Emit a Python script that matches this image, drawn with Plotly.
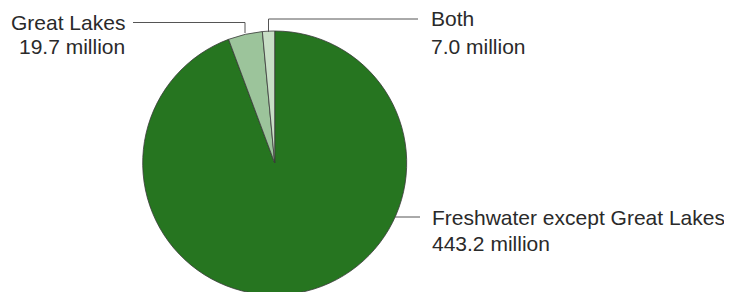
import plotly.graph_objects as go

W, H = 732, 292
OFF = 8  # page body margin in the browser

categories = ["Freshwater except Great Lakes", "Great Lakes", "Both"]
values = [443.2, 19.7, 7.0]
value_labels = ["443.2 million", "19.7 million", "7.0 million"]
colors = ["#267520", "#9cc49b", "#c8dfc6"]

def px(x):
    return (x - OFF) / W

def py(y):
    return 1 - (y - OFF) / H

cx, cy, r = 274.7, 163.0, 132.0

fig = go.Figure(go.Pie(
    labels=categories,
    values=values,
    sort=False,
    direction="clockwise",
    rotation=0,
    marker=dict(colors=colors, line=dict(color="#3a3a3a", width=0.8)),
    textinfo="none",
    hoverinfo="label+value",
    showlegend=False,
    domain=dict(x=[px(cx - r), px(cx + r)], y=[py(cy + r), py(cy - r)]),
))

font = dict(family="Liberation Sans, Arial, Helvetica, sans-serif", size=21, color="#2a2a2a")

label_pos = [
    (categories[0], value_labels[0], 430, 217.5, 243.5, "left"),
    (categories[1], value_labels[1], 127.5, 22.5, 46.5, "right"),
    (categories[2], value_labels[2], 429.5, 18.5, 46.5, "left"),
]
ann = []
for t1, t2, x, y1, y2, anc in label_pos:
    for t, yy in ((t1, y1), (t2, y2)):
        ann.append(dict(text=t, x=px(x), y=py(yy), xref="paper", yref="paper",
                        xanchor=anc, yanchor="middle", showarrow=False, font=font))

line_style = dict(color="#555555", width=1)
leaders = [
    [(395, 217), (420, 217)],
    [(133, 22.5), (245, 22.5), (245, 33)],
    [(418, 19), (268.5, 19), (268.5, 32)],
]
shapes = []
for pts in leaders:
    path = "M " + " L ".join(f"{px(x)},{py(y)}" for x, y in pts)
    shapes.append(dict(type="path", path=path, xref="paper", yref="paper", line=line_style))

fig.update_layout(
    width=W, height=H,
    margin=dict(l=0, r=0, t=0, b=0),
    paper_bgcolor="white", plot_bgcolor="white",
    annotations=ann, shapes=shapes,
)

fig.write_html("out.html")
